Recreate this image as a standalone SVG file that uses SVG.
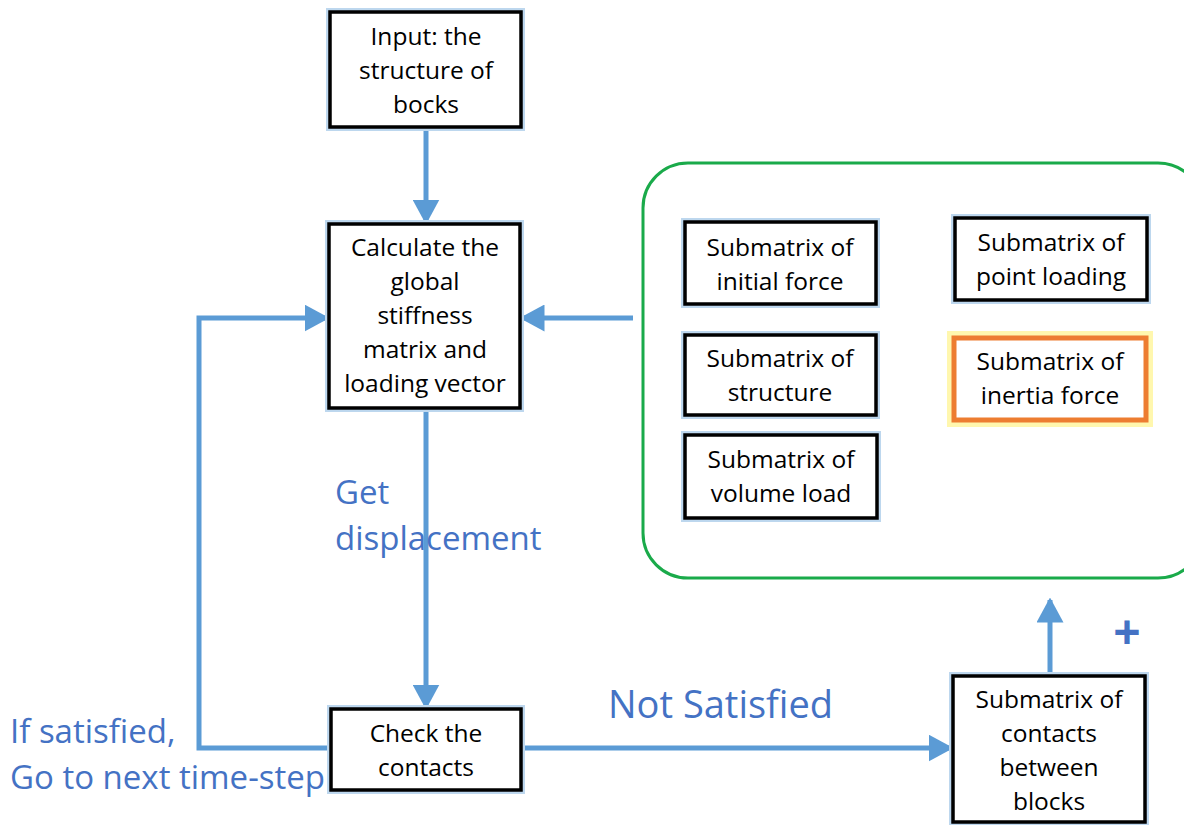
<svg xmlns="http://www.w3.org/2000/svg" width="1184" height="825" viewBox="0 0 1184 825">
<style>
.box{fill:#fff;stroke:#000;stroke-width:3.5}
.glow{fill:none;stroke:#bdd7ee;stroke-width:8}
.t{font-family:"Open Sans",Lato,sans-serif;font-size:24.5px;fill:#000;text-anchor:middle}
.lbl{font-family:"Open Sans",Lato,sans-serif;fill:#4472c4}
.c{fill:none;stroke:#5b9bd5;stroke-width:5}
</style>
<defs>
<marker id="ah" markerWidth="5" markerHeight="5.4" refX="4.5" refY="2.7" orient="auto" markerUnits="strokeWidth">
<path d="M0,0 L5,2.7 L0,5.4 Z" fill="#5b9bd5"/>
</marker>
</defs>
<g id="group">
<rect x="643" y="163" width="560" height="415" rx="45" fill="none" stroke="#1aaa4a" stroke-width="3"/>
</g>
<g id="connectors">
<line class="c" x1="426" y1="127" x2="426" y2="222" marker-end="url(#ah)"/>
<line class="c" x1="633" y1="318" x2="522" y2="318" marker-end="url(#ah)"/>
<line class="c" x1="426" y1="408" x2="426" y2="707" marker-end="url(#ah)"/>
<polyline class="c" points="331,748 199,748 199,318 327,318" marker-end="url(#ah)"/>
<line class="c" x1="521" y1="748" x2="951" y2="748" marker-end="url(#ah)"/>
<line class="c" x1="1050" y1="676" x2="1050" y2="600" marker-end="url(#ah)"/>
</g>
<g id="input">
<rect class="glow" x="330" y="12" width="191" height="115"/>
<rect class="box" x="330" y="12" width="191" height="115"/>
<text class="t" x="426" y="45">Input: the</text>
<text class="t" x="426" y="79">structure of</text>
<text class="t" x="426" y="113">bocks</text>
</g>
<g id="calc">
<rect class="glow" x="329" y="224" width="191" height="184"/>
<rect class="box" x="329" y="224" width="191" height="184"/>
<text class="t" x="425" y="256">Calculate the</text>
<text class="t" x="425" y="290">global</text>
<text class="t" x="425" y="324">stiffness</text>
<text class="t" x="425" y="358">matrix and</text>
<text class="t" x="425" y="392">loading vector</text>
</g>
<g id="check">
<rect class="glow" x="331" y="709" width="190" height="81"/>
<rect class="box" x="331" y="709" width="190" height="81"/>
<text class="t" x="426" y="742">Check the</text>
<text class="t" x="426" y="776">contacts</text>
</g>
<g id="contacts">
<rect class="glow" x="953" y="676" width="192" height="146"/>
<rect class="box" x="953" y="676" width="192" height="146"/>
<text class="t" x="1049" y="708">Submatrix of</text>
<text class="t" x="1049" y="742">contacts</text>
<text class="t" x="1049" y="776">between</text>
<text class="t" x="1049" y="810">blocks</text>
</g>
<g id="initial">
<rect class="glow" x="685" y="222" width="191" height="82"/>
<rect class="box" x="685" y="222" width="191" height="82"/>
<text class="t" x="780" y="256">Submatrix of</text>
<text class="t" x="780" y="290">initial force</text>
</g>
<g id="point">
<rect class="glow" x="955" y="218" width="192" height="82"/>
<rect class="box" x="955" y="218" width="192" height="82"/>
<text class="t" x="1051" y="251">Submatrix of</text>
<text class="t" x="1051" y="285">point loading</text>
</g>
<g id="structure">
<rect class="glow" x="685" y="335" width="191" height="80"/>
<rect class="box" x="685" y="335" width="191" height="80"/>
<text class="t" x="780" y="367">Submatrix of</text>
<text class="t" x="780" y="401">structure</text>
</g>
<g id="inertia">
<rect x="954" y="338" width="192" height="82" fill="none" stroke="#fff59a" stroke-width="14" opacity="0.8"/>
<rect x="954" y="338" width="192" height="82" fill="#fff" stroke="#ed7d31" stroke-width="5"/>
<text class="t" x="1050" y="370">Submatrix of</text>
<text class="t" x="1050" y="404">inertia force</text>
</g>
<g id="volume">
<rect class="glow" x="685" y="435" width="192" height="83"/>
<rect class="box" x="685" y="435" width="192" height="83"/>
<text class="t" x="781" y="468">Submatrix of</text>
<text class="t" x="781" y="502">volume load</text>
</g>
<g id="labels">
<text class="lbl" x="335" y="504" font-size="33">Get</text>
<text class="lbl" x="335" y="550" font-size="33">displacement</text>
<text class="lbl" x="608" y="718" font-size="38">Not Satisfied</text>
<text class="lbl" x="10" y="743" font-size="33">If satisfied,</text>
<text class="lbl" x="10" y="789" font-size="33">Go to next time-step</text>
<text class="lbl" x="1127" y="649" font-size="48" font-weight="bold" text-anchor="middle">+</text>
</g>
</svg>
